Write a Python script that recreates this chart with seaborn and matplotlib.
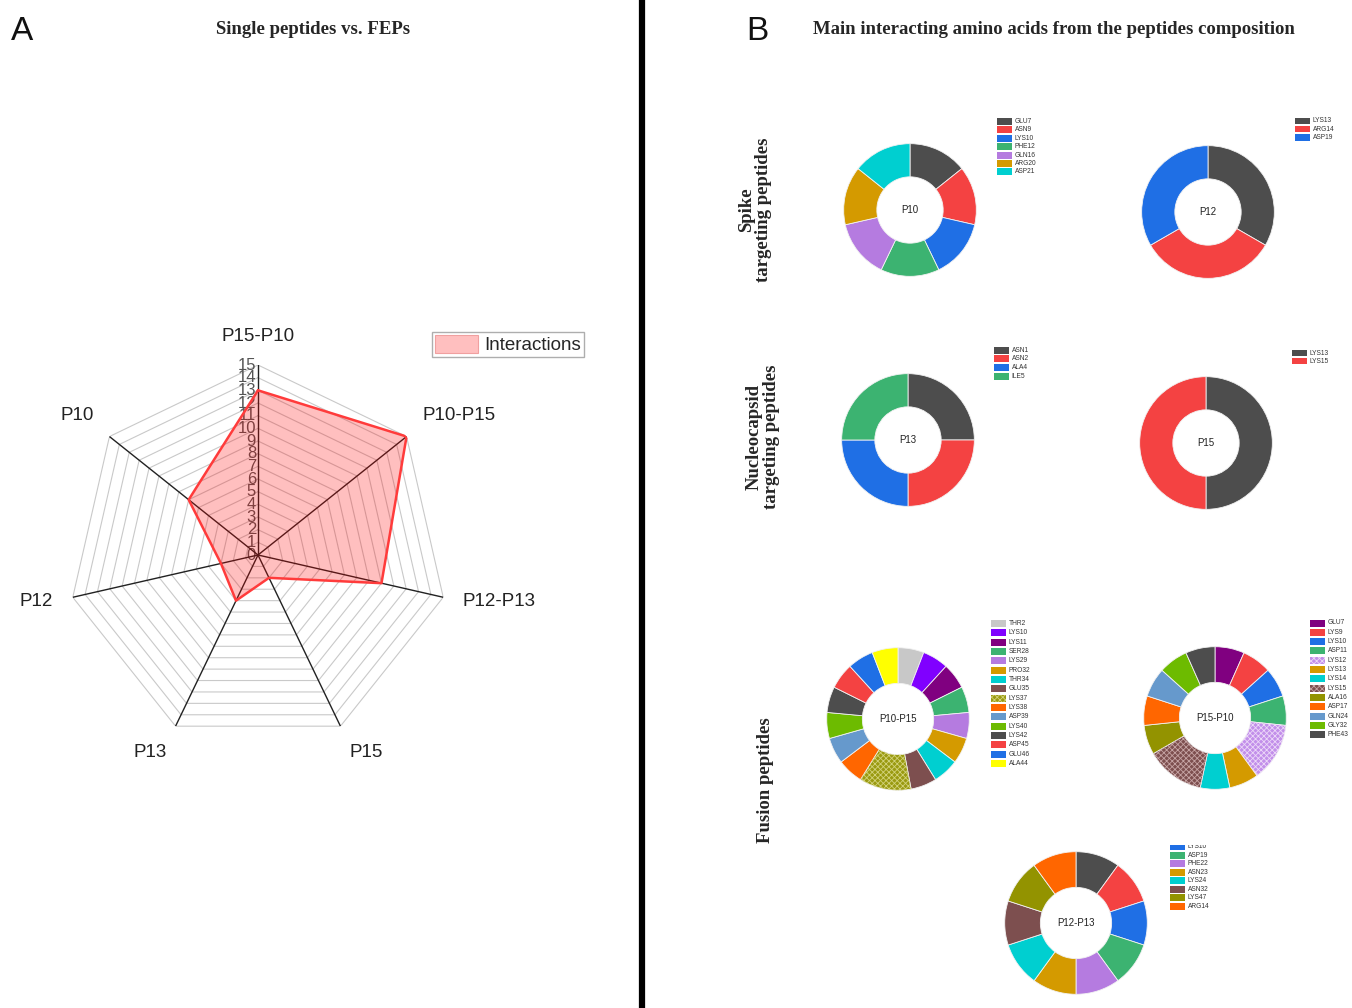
import numpy as np
import pandas as pd
import matplotlib
matplotlib.use("Agg")
import matplotlib.pyplot as plt
from matplotlib.patches import Rectangle, Patch, Wedge
from matplotlib.lines import Line2D
from matplotlib.transforms import offset_copy
import seaborn as sns

# ---------------- Panel A: interaction counts ----------------
radar_axes = ["P15-P10", "P10-P15", "P12-P13", "P15", "P13", "P12", "P10"]
interactions = [13, 15, 10, 2, 4, 3, 7]
radar_ticks = list(range(0, 16))

# ---------------- Panel B: residue composition ----------------
p10_res = ["GLU7", "ASN9", "LYS10", "PHE12", "GLN16", "ARG20", "ASP21"]
p10_cnt = [1, 1, 1, 1, 1, 1, 1]

p12_res = ["LYS13", "ARG14", "ASP19"]
p12_cnt = [1, 1, 1]

p13_res = ["ASN1", "ASN2", "ALA4", "ILE5"]
p13_cnt = [1, 1, 1, 1]

p15_res = ["LYS13", "LYS15"]
p15_cnt = [1, 1]

p10p15_res = ["THR2", "LYS10", "LYS11", "SER28", "LYS29", "PRO32", "THR34", "GLU35",
              "LYS37", "LYS38", "ASP39", "LYS40", "LYS42", "ASP45", "GLU46", "ALA44"]
p10p15_cnt = [1, 1, 1, 1, 1, 1, 1, 1, 2, 1, 1, 1, 1, 1, 1, 1]

p15p10_res = ["GLU7", "LYS9", "LYS10", "ASP11", "LYS12", "LYS13", "LYS14", "LYS15",
              "ALA16", "ASP17", "GLN24", "GLY32", "PHE43"]
p15p10_cnt = [1, 1, 1, 1, 2, 1, 1, 2, 1, 1, 1, 1, 1]

# legend of P12-P13 starts at its third slice (the panel is cut at the top)
p12p13_res = ["LYS10", "ASP19", "PHE22", "ASN23", "LYS24", "ASN32", "LYS47", "ARG14"]
p12p13_cnt = [1, 1, 1, 1, 1, 1, 1, 1, 1, 1]

# ---------------- colours ----------------
DGRAY, RED, BLUE, GREEN = "#4d4d4d", "#f44242", "#1f6fe5", "#3cb371"
LAV, GOLD, CYAN, BROWN = "#b57be0", "#d49a00", "#00cfd0", "#7d4f4f"
OLIVE, ORANGE, STEEL, LIME = "#939300", "#ff6600", "#6699cc", "#6dbb00"
VIOLET, PURPLE, LGRAY, YELLOW = "#8000ff", "#800080", "#c8c8c8", "#ffff00"
base_cols = [DGRAY, RED, BLUE, GREEN, LAV, GOLD, CYAN]

p10_cols = base_cols
p12_cols = base_cols[:3]
p13_cols = base_cols[:4]
p15_cols = base_cols[:2]
p10p15_cols = [LGRAY, VIOLET, PURPLE, GREEN, LAV, GOLD, CYAN, BROWN, "#9a9a10",
               ORANGE, STEEL, LIME, DGRAY, RED, BLUE, YELLOW]
p10p15_hatch = [None] * 8 + ["#d2d27a"] + [None] * 7
p15p10_cols = [PURPLE, RED, BLUE, GREEN, "#c28fea", GOLD, CYAN, "#7d4f4f",
               OLIVE, ORANGE, STEEL, LIME, DGRAY]
p15p10_hatch = [None, None, None, None, "#ecd8f8", None, None, "#c6a4a4",
                None, None, None, None, None]
p12p13_cols = [DGRAY, RED, BLUE, GREEN, LAV, GOLD, CYAN, BROWN, OLIVE, ORANGE]

sns.set_theme(style="white")
plt.rcParams["font.family"] = ["Liberation Sans", "DejaVu Sans"]
plt.rcParams["hatch.linewidth"] = 0.6

W, H = 1352, 1008
fig = plt.figure(figsize=(W / 100, H / 100), dpi=100)
fig.patch.set_facecolor("white")


def px_axes(x, y, w, h, **kw):
    return fig.add_axes([x / W, 1 - (y + h) / H, w / W, h / H], **kw)


# ---------------- Panel A: radar ----------------
cx, cy, R = 258, 555, 190
rax = px_axes(cx - R, cy - R, 2 * R, 2 * R, projection="polar")
rax.set_theta_zero_location("N")
rax.set_theta_direction(-1)
rax.set_ylim(0, 15)
rax.set_xticks([])
rax.set_yticks([])
rax.grid(False)
rax.spines["polar"].set_visible(False)
rax.patch.set_alpha(0)

n = len(radar_axes)
theta = np.arange(n) * 2 * np.pi / n
theta_c = np.append(theta, 2 * np.pi)

for k in radar_ticks[1:]:
    rax.plot(theta_c, [k] * (n + 1), color="#c9c9c9", lw=0.8, zorder=1)
for t in theta:
    rax.plot([t, t], [0, 15], color="#222222", lw=1.0, zorder=2)

tick_tr = offset_copy(rax.transData, fig=fig, x=-2, y=0, units="dots")
for k in radar_ticks:
    rax.text(0, k, str(k), transform=tick_tr, ha="right", va="center",
             fontsize=12, color="#555555", zorder=1)

df = pd.DataFrame({"theta": theta_c, "value": interactions + interactions[:1]})
rax.fill(df["theta"], df["value"], color=(1, 0, 0, 0.25), lw=0, zorder=3)
sns.lineplot(data=df, x="theta", y="value", sort=False, estimator=None,
             ax=rax, color="#ff3b3b", lw=1.8, zorder=4)
rax.set_xlabel("")
rax.set_ylabel("")

for t, name in zip(theta, radar_axes):
    s, c = np.sin(t), np.cos(t)
    ha = "center" if abs(s) < 0.05 else ("left" if s > 0 else "right")
    va = "bottom" if c > 0.5 else ("top" if c < -0.5 else "center")
    rax.text(t, 16.6, name, ha=ha, va=va, fontsize=13.5, color="#222222",
             clip_on=False)

fig.legend(handles=[Patch(facecolor=(1, 0, 0, 0.25), edgecolor="#f0a0a0", lw=0.8)],
           labels=["Interactions"], loc="upper left",
           bbox_to_anchor=(432 / W, 1 - 332 / H), frameon=True, fancybox=False,
           edgecolor="#9a9a9a", fontsize=13.5, handlelength=2.3, handleheight=1.1,
           borderpad=0.15, handletextpad=0.35, borderaxespad=0)


# ---------------- Panel B: donuts ----------------
def donut(cx, cy, R, counts, colors, label, hatch_cols=None):
    ax = px_axes(cx - R, cy - R, 2 * R, 2 * R)
    wedges, _ = ax.pie(counts, colors=colors, startangle=90, counterclock=False,
                       radius=1, wedgeprops=dict(width=0.5, edgecolor="#f2f2f2",
                                                 linewidth=0.6))
    if hatch_cols:
        for w, hc in zip(wedges, hatch_cols):
            if hc:
                ax.add_patch(Wedge(w.center, w.r, w.theta1, w.theta2, width=w.width,
                                   facecolor="none", edgecolor=hc, hatch="xxxxxx",
                                   lw=0))
    ax.set_xlim(-1.01, 1.01)
    ax.set_ylim(-1.01, 1.01)
    ax.set_aspect("equal")
    ax.axis("off")
    ax.text(0, 0, label, ha="center", va="center", fontsize=7, color="#222222")


def legend_box(x, y0, dy, names, colors, hatch_cols=None, sw=15, sh=7,
               clip_top=None, fs=4.8):
    top = clip_top if clip_top is not None else y0 - dy
    bottom = y0 + dy * len(names)
    ax = px_axes(x - 2, top, 70, bottom - top)
    ax.set_xlim(x - 2, x + 68)
    ax.set_ylim(bottom, top)
    ax.axis("off")
    hatch_cols = hatch_cols or [None] * len(names)
    for i, (nm, col, hc) in enumerate(zip(names, colors, hatch_cols)):
        yc = y0 + i * dy
        ax.add_patch(Rectangle((x, yc - sh / 2), sw, sh, facecolor=col,
                               edgecolor="none", clip_on=True))
        if hc:
            ax.add_patch(Rectangle((x, yc - sh / 2), sw, sh, facecolor="none",
                                   edgecolor=hc, hatch="xxxxxx", lw=0, clip_on=True))
        ax.text(x + sw + 2.5, yc, nm, fontsize=fs, va="center", ha="left",
                color="#333333", clip_on=True)


donut(910, 210, 67, p10_cnt, p10_cols, "P10")
legend_box(997, 121.5, 8.4, p10_res, p10_cols)

donut(1208, 212, 67, p12_cnt, p12_cols, "P12")
legend_box(1295, 121, 8.2, p12_res, p12_cols, sh=6.5)

donut(908, 440, 67, p13_cnt, p13_cols, "P13")
legend_box(994, 350, 8.7, p13_res, p13_cols)

donut(1206, 443, 67, p15_cnt, p15_cols, "P15")
legend_box(1292, 353, 8.2, p15_res, p15_cols, sh=6.5)

donut(898, 719, 72, p10p15_cnt, p10p15_cols, "P10-P15", p10p15_hatch)
legend_box(991, 623.5, 9.33, p10p15_res, p10p15_cols, p10p15_hatch)

donut(1215, 718, 72, p15p10_cnt, p15p10_cols, "P15-P10", p15p10_hatch)
legend_box(1310, 623, 9.33, p15p10_res, p15p10_cols, p15p10_hatch)

donut(1076, 923, 72, p12p13_cnt, p12p13_cols, "P12-P13")
legend_box(1170, 846.5, 8.5, p12p13_res, p12p13_cols[2:], clip_top=844.5)

# ---------------- titles and labels ----------------
serif = ["Liberation Serif", "DejaVu Serif"]
fig.text(22 / W, 1 - 32 / H, "A", ha="center", va="center", fontsize=24, color="#111111")
fig.text(757 / W, 1 - 32 / H, "B", ha="center", va="center", fontsize=24, color="#111111")
fig.text(313 / W, 1 - 30 / H, "Single peptides vs. FEPs", ha="center", va="center",
         fontsize=13.5, fontweight="bold", family=serif)
fig.text(1054 / W, 1 - 30 / H,
         "Main interacting amino acids from the peptides composition",
         ha="center", va="center", fontsize=13.5, fontweight="bold", family=serif)
fig.text(755 / W, 1 - 210 / H, "Spike\ntargeting peptides", rotation=90,
         ha="center", va="center", multialignment="center", fontsize=13.5,
         fontweight="bold", family=serif, linespacing=1.05)
fig.text(763 / W, 1 - 437 / H, "Nucleocapsid\ntargeting peptides", rotation=90,
         ha="center", va="center", multialignment="center", fontsize=13.5,
         fontweight="bold", family=serif, linespacing=1.05)
fig.text(765 / W, 1 - 780 / H, "Fusion peptides", rotation=90,
         ha="center", va="center", fontsize=13.5, fontweight="bold", family=serif)

# panel divider
fig.add_artist(Line2D([641.5 / W, 641.5 / W], [0, 1], color="black", lw=4.5,
                      transform=fig.transFigure))

fig.savefig("out.png", dpi=100, facecolor="white")
